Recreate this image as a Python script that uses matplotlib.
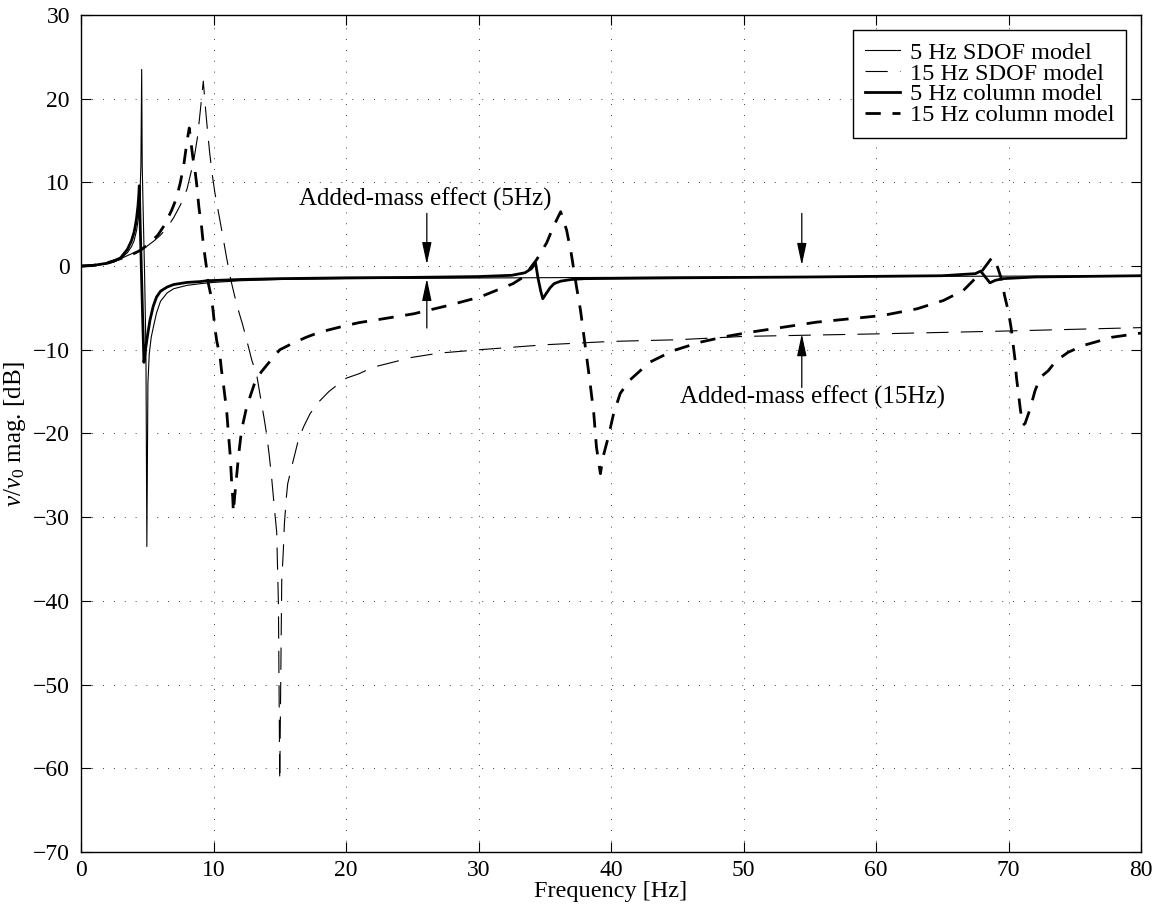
import matplotlib.pyplot as plt

plt.rcParams['font.family'] = ['Liberation Serif', 'DejaVu Serif']
plt.rcParams['mathtext.fontset'] = 'custom'
plt.rcParams['mathtext.rm'] = 'Liberation Serif'
plt.rcParams['mathtext.it'] = 'Liberation Serif:italic'

# 5 Hz SDOF model (thin solid)
f_sdof5 = [0, 1.0, 2.0, 2.5, 3.0, 3.5, 3.8, 4.0, 4.2, 4.35, 4.45, 4.52, 4.58, 4.62,
           4.7, 4.8, 4.9, 4.97, 5.05, 5.15, 5.3, 5.5, 5.7, 6.0, 6.5, 7.0, 8.0, 9.0,
           10.0, 12.0, 15.0, 20.0, 30.0, 40.0, 50.0, 60.0, 70.0, 80.0]
db_sdof5 = [0, 0.06, 0.3, 0.5, 0.9, 1.6, 2.3, 3.0, 4.3, 6.0, 8.5, 12.0, 23.5, 12.0,
            6.0, -1.0, -10.0, -33.5, -14.0, -10.5, -8.5, -7.0, -5.6, -4.2, -3.2, -2.7, -2.3, -2.1,
            -1.95, -1.75, -1.6, -1.5, -1.42, -1.35, -1.3, -1.25, -1.2, -1.15]

# 15 Hz SDOF model (thin dashed)
f_sdof15 = [0, 1, 2, 3, 4, 4.5, 5.0, 5.5, 6.0, 6.5, 7.0, 7.5, 8.0, 8.5, 8.8, 9.0, 9.23,
            9.36, 9.5, 9.7, 9.9, 10.1, 10.4, 10.7, 11.0, 11.3, 11.6, 11.9, 12.2, 12.5,
            12.9, 13.25, 13.6, 13.8, 14.0, 14.2, 14.4, 14.6, 14.77, 14.9, 15.0, 15.15,
            15.27, 15.35, 15.5, 15.6, 15.9, 16.15, 16.4, 16.8, 17.3, 17.9, 18.7, 19.5,
            20.0, 21.0, 22.0, 23.0, 24.0, 25.0, 27.0, 30.0, 35.0, 40.0, 45.0, 50.0,
            60.0, 70.0, 80.0]
db_sdof15 = [0, 0.1, 0.4, 0.9, 1.6, 2.0, 2.4, 3.0, 3.7, 4.6, 5.8, 7.3, 9.2, 12.5, 15.5, 18.5, 22.1,
             19.5, 17.0, 13.7, 11.0, 8.8, 6.2, 3.6, 0.9, -1.6, -3.6, -5.4, -7.0, -8.8,
             -11.3, -12.9, -16.2, -18.0, -20.0, -22.5, -25.5, -29.0, -31.8, -40.4, -61.5, -37.6,
             -34.0, -30.8, -27.6, -26.0, -24.0, -22.4, -20.8, -19.2, -17.6, -16.3, -15.0, -14.0,
             -13.4, -12.85, -12.1, -11.7, -11.3, -10.9, -10.4, -10.0, -9.4, -9.0, -8.8, -8.4,
             -8.1, -7.75, -7.35]

# 5 Hz column model (thick solid)
f_col5 = [0, 1, 2, 2.5, 3.0, 3.5, 3.8, 4.0, 4.1, 4.2, 4.3, 4.35, 4.4, 4.45, 4.55, 4.65,
          4.75, 4.85, 5.0, 5.2, 5.45, 5.7, 6.0, 6.5, 7.0, 8.0, 9.0, 9.5, 12, 15, 20, 25,
          30, 32.5, 33.5, 34.0, 34.3, 34.5, 34.7, 34.85, 35.1, 35.4, 35.7, 36.2, 37.0,
          38, 45, 55, 65, 67.5, 67.9, 68.2, 68.6, 69.0, 69.6, 72, 80]
db_col5 = [0, 0.1, 0.35, 0.6, 1.0, 2.0, 3.0, 4.0, 4.8, 5.8, 7.2, 8.2, 9.6, 6.0, 0.0, -6.0,
           -11.5, -10.2, -8.5, -6.5, -4.8, -3.7, -3.0, -2.5, -2.2, -1.95, -1.85, -1.75, -1.6, -1.5, -1.4, -1.35,
           -1.25, -1.1, -0.8, -0.3, 0.4, -1.5, -3.0, -3.9, -3.3, -2.6, -2.1, -1.8, -1.6,
           -1.5, -1.4, -1.3, -1.15, -0.9, -0.6, -1.2, -2.0, -1.7, -1.5, -1.3, -1.15]

# 15 Hz column model (thick dashed)
f_col15 = [0, 1, 2, 3, 4, 4.5, 5.0, 5.8, 6.3, 6.85, 7.2, 7.5, 7.75, 8.0, 8.17, 8.43, 8.6,
           8.75, 8.9, 9.1, 9.2, 9.36, 9.5, 9.6, 9.86, 9.98, 10.1, 10.24, 10.5, 10.6,
           10.74, 10.87, 11.0, 11.1, 11.25, 11.37, 11.45, 11.5, 11.6, 11.75, 11.9, 12.05,
           12.2, 12.45, 12.75, 13.1, 13.6, 14.3, 15.0, 16, 17, 18, 19, 20, 21, 22.4,
           25.1, 27.6, 30.1, 32.6, 33.4, 34.4, 35.15, 35.65, 36.2, 36.65, 37.0, 37.4,
           37.7, 38.0, 38.4, 38.7, 38.9, 39.2, 39.4, 39.8, 40.2, 40.7, 41.4, 42.9, 44.7,
           46.7, 48.7, 50.5, 53, 55.5, 58, 60.5, 63.1, 65.1, 66.6, 67.85, 68.7, 68.9,
           69.2, 69.5, 69.7, 70.0, 70.2, 70.5, 70.6, 70.75, 70.9, 71.1, 71.25, 71.6,
           72.0, 72.4, 73.0, 73.6, 74.5, 75.6, 76.5, 77.8, 78.7, 80]
db_col15 = [0, 0.1, 0.4, 0.9, 1.5, 1.9, 2.5, 3.7, 4.9, 6.7, 8.1, 10.0, 12.0, 14.9, 16.5, 13.1, 11.5,
            9.5, 7.0, 4.7, 3.1, 1.1, -0.5, -2.0, -3.9, -5.5, -7.3, -8.9, -10.9, -12.4,
            -14.0, -15.7, -17.4, -19.5, -22.4, -25.8, -27.6, -29.4, -27.5, -25.0, -22.5, -20.5,
            -19.0, -17.2, -15.65, -14.0, -12.65, -11.3, -10.0, -9.2, -8.5, -7.9, -7.5, -7.1, -6.75, -6.4,
            -5.7, -4.75, -3.7, -2.1, -1.3, 0.8, 2.8, 4.7, 6.5, 4.3, 1.5, -2.5,
            -5.3, -8.9, -13.7, -17.6, -21.6, -24.8, -22.8, -20.4, -17.6, -15.2, -13.65, -11.5, -10.1,
            -9.1, -8.4, -7.9, -7.3, -6.7, -6.3, -5.9, -5.1, -4.1, -2.9, -0.9, 0.9, 1.0,
            -0.25, -1.7, -3.5, -5.5, -7.4, -11.3, -13.3, -15.2, -17.2, -19.0, -18.8, -17.2,
            -14.9, -13.3, -12.5, -11.3, -10.3, -9.5, -9.1, -8.5, -8.3, -8.0]

labels = ['5 Hz SDOF model', '15 Hz SDOF model', '5 Hz column model', '15 Hz column model']
xticks = [0, 10, 20, 30, 40, 50, 60, 70, 80]
yticks = [-70, -60, -50, -40, -30, -20, -10, 0, 10, 20, 30]

fig = plt.figure(figsize=(11.56, 9.15), dpi=100)
ax = fig.add_axes([81 / 1156, 1 - 852 / 915, 1060 / 1156, 837 / 915])

ax.plot(f_sdof5, db_sdof5, color='black', lw=0.8, label=labels[0])
ax.plot(f_sdof15, db_sdof15, color='black', lw=0.8, ls=(0, (20, 11)), label=labels[1])
ax.plot(f_col5, db_col5, color='black', lw=2.0, label=labels[2])
ax.plot(f_col15, db_col15, color='black', lw=2.0, ls=(0, (5.5, 4.2)), label=labels[3])

ax.set_xlim(0, 80)
ax.set_ylim(-70, 30)
ax.set_xticks(xticks)
ax.set_yticks(yticks)
ax.grid(True, color='black', lw=0.6, ls=(0, (1, 12)))
ax.tick_params(direction='in', top=True, right=True, length=7, width=0.8, labelsize=17)
ax.tick_params(axis='y', pad=8)
ax.tick_params(axis='x', pad=6)
for s in ax.spines.values():
    s.set_linewidth(1.0)

ax.set_xlabel('Frequency [Hz]', fontsize=17.5, labelpad=0)
ax.set_ylabel('$v/v_0$ mag. [dB]', fontsize=18)
ax.yaxis.set_label_coords(-0.05, 0.5)

leg = ax.legend(loc='upper right', fontsize=17.5, fancybox=False, edgecolor='black',
                framealpha=1, borderaxespad=0.6, handlelength=1.45, labelspacing=-0.05,
                borderpad=0.5, handletextpad=0.4)
leg.get_frame().set_linewidth(1.0)

arrow = dict(arrowstyle='-|>,head_length=0.75,head_width=0.16', color='black', lw=0.9,
             mutation_scale=18, shrinkA=0, shrinkB=0)
ax.annotate('', xy=(26.1, 0.2), xytext=(26.1, 6.3), arrowprops=arrow)
ax.annotate('', xy=(26.1, -1.5), xytext=(26.1, -7.4), arrowprops=arrow)
ax.annotate('', xy=(54.4, 0.1), xytext=(54.4, 6.3), arrowprops=arrow)
ax.annotate('', xy=(54.4, -8.1), xytext=(54.4, -14.5), arrowprops=arrow)
ax.text(26.0, 8.0, 'Added-mass effect (5Hz)', fontsize=18, ha='center', va='center')
ax.text(55.2, -15.65, 'Added-mass effect (15Hz)', fontsize=18, ha='center', va='center')

fig.savefig('out.png', dpi=100)
